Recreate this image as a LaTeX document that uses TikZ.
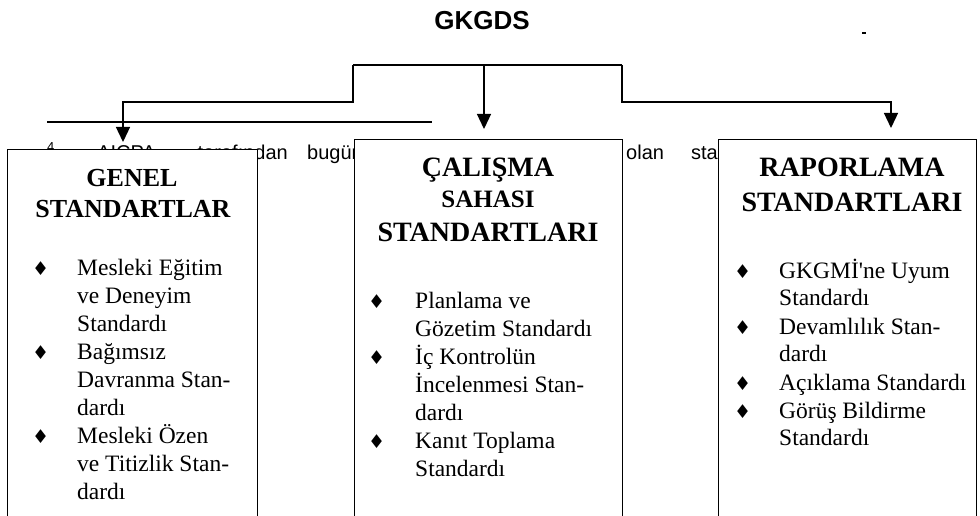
\documentclass[tikz,border=0pt]{standalone}
\usepackage{fontspec}
\setmainfont{Liberation Serif}
\setsansfont{Liberation Sans}
\newfontfamily\dingfont{DejaVu Sans}
\usetikzlibrary{arrows.meta}

\newcommand{\bul}{{\dingfont\fontsize{19}{19}\selectfont ♦}}

\tikzset{
  stdbox/.style={draw, line width=1pt, fill=white, anchor=north west, inner sep=0pt},
  head/.style={anchor=base, inner sep=0pt, font=\bfseries\fontsize{#1}{#1}\selectfont},
  items/.style={anchor=base west, inner sep=0pt, font=\fontsize{23.5}{28}\selectfont},
  arr/.style={line width=1.3pt, -{Triangle[length=15pt,width=14pt]}},
  fnote/.style={anchor=base west, inner sep=0pt, font=\sffamily\fontsize{20}{24}\selectfont},
}

\begin{document}
\begin{tikzpicture}[x=1pt,y=1pt]
\useasboundingbox (0,0) rectangle (980,515);
\clip (0,0) rectangle (980,515);

% Title
\node[anchor=base, inner sep=0pt, font=\sffamily\bfseries\fontsize{26}{26}\selectfont] (gkgds) at (482,485) {GKGDS};
\fill (862,481) rectangle (866,483); % speck

% Footnote line behind the boxes
\node[fnote, font=\sffamily\fontsize{13}{13}\selectfont] (fn0) at (47,363) {4};
\node[fnote] (fn1) at (97,355) {AICPA};
\node[fnote, anchor=base east] (fn2) at (288,355) {tarafından};
\node[fnote] (fn3) at (307,355) {bugün};
\node[fnote] (fn4) at (626,355) {olan};
\node[fnote, anchor=base east] (fn5) at (718,355) {sta};

% Boxes
\node[stdbox, minimum width=250pt, minimum height=390pt] (genel) at (7,366) {};
\node[stdbox, minimum width=268pt, minimum height=400pt] (calisma) at (354,376) {};
\node[stdbox, minimum width=258pt, minimum height=400pt] (rapor) at (718,376) {};

% Headings
\node[head=26] (genelh1) at (132,328) {GENEL};
\node[head=26] (genelh2) at (133,298) {STANDARTLAR};
\node[head=28] (calismah1) at (488,338) {ÇALIŞMA};
\node[head=25] (calismah2) at (488,307) {SAHASI};
\node[head=28] (calismah3) at (488,273) {STANDARTLARI};
\node[head=28] (raporh1) at (852,338) {RAPORLAMA};
\node[head=28] (raporh2) at (852,303) {STANDARTLARI};

% Lists
\node[items] (genell) at (32,240) {\begin{tabular}[t]{@{}p{45pt}@{}l@{}}
\bul & Mesleki Eğitim\\
     & ve Deneyim\\
     & Standardı\\
\bul & Bağımsız\\
     & Davranma Stan-\\
     & dardı\\
\bul & Mesleki Özen\\
     & ve Titizlik Stan-\\
     & dardı
\end{tabular}};
\node[items] (calismal) at (368,207) {\begin{tabular}[t]{@{}p{47pt}@{}l@{}}
\bul & Planlama ve\\
     & Gözetim Standardı\\
\bul & İç Kontrolün\\
     & İncelenmesi Stan-\\
     & dardı\\
\bul & Kanıt Toplama\\
     & Standardı
\end{tabular}};
\node[items] (raporl) at (734,237) {\begin{tabular}[t]{@{}p{45pt}@{}l@{}}
\bul & GKGMİ\textquotesingle ne Uyum\\
     & Standardı\\
\bul & Devamlılık Stan-\\
     & dardı\\
\bul & Açıklama Standardı\\
\bul & Görüş Bildirme\\
     & Standardı
\end{tabular}};

% Connectors
\coordinate (barl) at (353,450);
\coordinate (barm) at (484,450);
\coordinate (barr) at (622,450);
\coordinate (ljoin) at (353,413);
\coordinate (rjoin) at (622,413);
\coordinate (gtip) at (123,373);
\coordinate (mtip) at (484,386);
\coordinate (rtip) at (891,387);
\draw[line width=1.3pt] (barl) -- (barr);
\draw[arr] (barl) -- (ljoin) -| (gtip);
\draw[arr] (barm) -- (mtip);
\draw[arr] (barr) -- (rjoin) -| (rtip);

% Footnote rule
\coordinate (sepa) at (47,393);
\coordinate (sepb) at (432,393);
\draw[line width=1.3pt] (sepa) -- (sepb);
\end{tikzpicture}
\end{document}
